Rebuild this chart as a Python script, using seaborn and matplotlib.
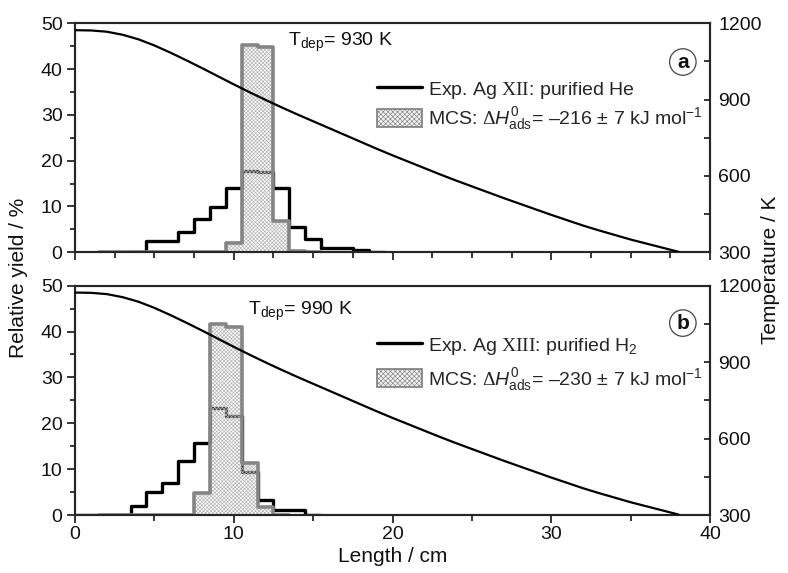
import numpy as np
import pandas as pd
import matplotlib
matplotlib.use("Agg")
import matplotlib.pyplot as plt
import seaborn as sns
from matplotlib.lines import Line2D
from matplotlib.patches import Patch
from matplotlib.ticker import MultipleLocator

# ---------------- data ----------------
# panel a (purified He)
exp_a_centers = list(range(4, 20))
exp_a_vals = [0, 2.5, 2.5, 4.4, 7.3, 9.8, 14.0, 17.8, 17.6, 14.0, 5.6, 2.8, 0.9, 0.9, 0.5, 0]
mcs_a_centers = list(range(2, 16))
mcs_a_vals = [0, 0, 0, 0, 0, 0, 0, 0, 2.0, 45.3, 44.9, 6.9, 0.3, 0]

# panel b (purified H2)
exp_b_centers = list(range(0, 16))
exp_b_vals = [0, 0, 0, 0, 2.0, 5.0, 7.0, 11.8, 15.6, 23.4, 21.6, 9.4, 3.3, 1.2, 1.1, 0]
mcs_b_centers = list(range(2, 14))
mcs_b_vals = [0, 0, 0, 0, 0, 0, 4.7, 41.6, 40.9, 11.3, 1.8, 0]

# temperature profile (right axis), read at every cm
temp_x = list(range(0, 39))
temp_K = [1173, 1172, 1167, 1155, 1137, 1113, 1085, 1055, 1024, 992,
          960, 929, 899, 870, 842, 815, 788, 761, 734, 707,
          681, 656, 631, 606, 582, 559, 536, 513, 491, 469,
          447, 426, 405, 386, 368, 350, 334, 318, 302]

tdep_labels = ["T$_{\\mathsf{dep}}$= 930 K", "T$_{\\mathsf{dep}}$= 990 K"]
exp_labels = ["Exp. Ag $\\mathrm{XII}$: purified He",
              "Exp. Ag $\\mathrm{XIII}$: purified H$_{\\mathsf{2}}$"]
mcs_labels = ["MCS: $\\Delta\\mathit{H}^{\\mathsf{0}}_{\\mathsf{ads}}$= \u2013216 \u00b1 7 kJ mol$^{\\mathsf{-1}}$",
              "MCS: $\\Delta\\mathit{H}^{\\mathsf{0}}_{\\mathsf{ads}}$= \u2013230 \u00b1 7 kJ mol$^{\\mathsf{-1}}$"]
panel_letters = ["a", "b"]

# ---------------- style ----------------
sns.set_style("ticks")
plt.rcParams["font.family"] = ["Liberation Sans", "DejaVu Sans"]
plt.rcParams["mathtext.fontset"] = "custom"
plt.rcParams["mathtext.rm"] = "Liberation Serif"
plt.rcParams["mathtext.it"] = "Liberation Sans:italic"
plt.rcParams["mathtext.sf"] = "Liberation Sans"
plt.rcParams["mathtext.bf"] = "Liberation Sans:bold"
plt.rcParams["hatch.linewidth"] = 0.45
FS = 14
LFS = 15
spine_col = "#262626"
gray = "#858585"

fig = plt.figure(figsize=(7.88, 5.73), dpi=100)
ax_a = fig.add_axes([0.0952, 0.5597, 0.806, 0.3996])
ax_b = fig.add_axes([0.0952, 0.1012, 0.806, 0.4002])

panels = [
    (ax_a, exp_a_centers, exp_a_vals, mcs_a_centers, mcs_a_vals, 0),
    (ax_b, exp_b_centers, exp_b_vals, mcs_b_centers, mcs_b_vals, 1),
]

tdep_pos = [(0.335, 0.915), (0.272, 0.888)]
legend_pos = [(0.476, 0.758), (0.476, 0.785)]
letter_pos = [(0.957, 0.831), (0.957, 0.837)]

for ax, ec, ev, mc, mv, i in panels:
    # experimental step histogram (black)
    sns.histplot(x=ec, weights=ev, discrete=True, element="step", fill=False,
                 color="black", linewidth=2.4, ax=ax, zorder=2)
    # MCS hatched fill (semi-transparent so the experimental step shows through)
    sns.histplot(x=mc, weights=mv, discrete=True, element="step", fill=True,
                 facecolor=(0.95, 0.95, 0.95, 0.3), edgecolor="#b4b4b4",
                 linewidth=0, hatch="x" * 9, ax=ax, zorder=3)
    # MCS outline (gray)
    sns.histplot(x=mc, weights=mv, discrete=True, element="step", fill=False,
                 color=gray, linewidth=2.6, ax=ax, zorder=4)

    ax.set_xlim(0, 40)
    ax.set_ylim(0, 50)
    ax.set_ylabel("")
    ax.set_xlabel("")
    ax.yaxis.set_major_locator(MultipleLocator(10))
    ax.yaxis.set_minor_locator(MultipleLocator(5))
    ax.xaxis.set_major_locator(MultipleLocator(10))
    ax.xaxis.set_minor_locator(MultipleLocator(2.5 if i == 0 else 5))
    ax.tick_params(axis="y", which="major", direction="out", length=6, width=1.3,
                   labelsize=FS, pad=3, colors=spine_col, labelcolor="#111")
    ax.tick_params(axis="y", which="minor", direction="out", length=3.5, width=1.3,
                   colors=spine_col)
    ax.tick_params(axis="x", which="major", direction="out", length=6, width=1.3,
                   labelsize=FS, pad=2, colors=spine_col, labelcolor="#111")
    ax.tick_params(axis="x", which="minor", direction="out", length=4, width=1.3,
                   colors=spine_col)
    if i == 0:
        ax.tick_params(axis="x", which="both", labelbottom=False)
    for s in ax.spines.values():
        s.set_visible(True)
        s.set_linewidth(1.5)
        s.set_color(spine_col)

    # temperature on twin axis
    ax2 = ax.twinx()
    sns.lineplot(x=temp_x, y=temp_K, color="black", linewidth=1.6, ax=ax2,
                 sort=False, zorder=5)
    ax2.set_ylim(300, 1200)
    ax2.yaxis.set_major_locator(MultipleLocator(300))
    ax2.yaxis.set_minor_locator(MultipleLocator(150))
    ax2.tick_params(axis="y", which="both", direction="in", length=4.5, width=1.3,
                    labelsize=FS, pad=6, colors=spine_col, labelcolor="#111")
    ax2.set_ylabel("")
    for s in ax2.spines.values():
        s.set_linewidth(1.5)
        s.set_color(spine_col)

    # annotations
    ax2.text(tdep_pos[i][0], tdep_pos[i][1], tdep_labels[i], transform=ax.transAxes,
             fontsize=FS, ha="left", va="center", color="#111")
    ax2.text(letter_pos[i][0], letter_pos[i][1], panel_letters[i], transform=ax.transAxes,
             fontsize=15, fontweight="bold", ha="center", va="center", color="#111",
             bbox=dict(boxstyle="circle,pad=0.18", fc="white", ec="#444", lw=0.9))

    handles = [
        Line2D([], [], color="black", linewidth=2.4),
        Patch(facecolor="#f2f2f2", edgecolor=gray, hatch="x" * 7, linewidth=1.3),
    ]
    ax2.legend(handles, [exp_labels[i], mcs_labels[i]], loc="upper left",
               bbox_to_anchor=legend_pos[i], frameon=False, fontsize=FS,
               handlelength=2.3, handleheight=1.1, handletextpad=0.3,
               labelspacing=0.25 if i == 0 else 0.45, borderaxespad=0,
               borderpad=0)

fig.text(0.024, 0.515, "Relative yield / %", rotation=90, ha="center", va="center",
         fontsize=LFS, color="#111")
fig.text(0.978, 0.53, "Temperature / K", rotation=90, ha="center", va="center",
         fontsize=LFS, color="#111")
ax_b.set_xlabel("Length / cm", fontsize=LFS, labelpad=3, color="#111")

fig.savefig("out.png", dpi=100)
